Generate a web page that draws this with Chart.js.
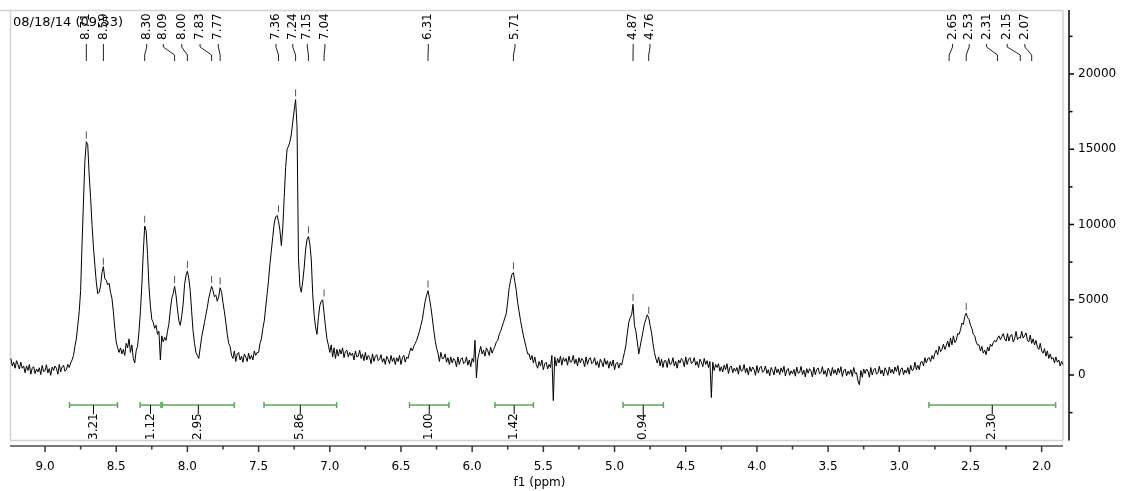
<!DOCTYPE html>
<html><head><meta charset="utf-8">
<script src="https://cdn.jsdelivr.net/npm/chart.js@4.4.1/dist/chart.umd.min.js"></script>
<style>html,body{margin:0;padding:0;background:#fff;overflow:hidden}#wrap{width:1123px;height:491px}</style>
</head><body><div id="wrap"><canvas id="c" width="1123" height="491"></canvas></div>
<script>
// ---- spectrum (1H NMR), sampled every 0.01 ppm starting at 9.24 ppm ----
const ppmStart = 9.24;
const ppmStep = 0.01;
const intensity = [
 1100,600,850,450,950,700,400,850,450,600,
 150,600,300,700,50,450,550,100,400,200,
 480,30,630,230,280,680,130,430,-20,530,
 300,600,450,50,700,200,550,650,250,350,
 700,500,800,1000,1300,1900,2400,3300,4200,5600,
 8700,11500,14200,15500,15300,13300,11800,10000,8500,7300,
 6200,5400,5500,5900,6800,7200,6400,6300,6000,6100,
 5500,5100,4200,3100,2200,1800,1500,1800,1400,1700,
 1300,2100,1800,2400,1500,2000,1100,800,1600,1900,
 2900,4200,6000,8100,9900,9600,8000,5900,4600,3700,
 3500,3100,3300,2700,2900,1000,2600,2200,2500,2300,
 2900,3400,4300,5100,5400,5900,5300,4400,3600,3300,
 3900,4700,6000,6600,6900,6400,5600,4200,2900,2100,
 1500,1300,1100,1800,2500,3000,3500,4000,4500,5100,
 5500,5900,5600,5200,5300,4900,5200,5800,5500,4800,
 4200,3500,2700,2100,1900,1300,1100,1600,900,1400,
 1500,1000,1250,850,1400,1200,900,1450,1050,1300,
 1000,1600,1300,1500,1500,2100,2400,3100,3600,4500,
 5400,6300,7400,8300,9200,10100,10500,10600,10200,9600,
 8600,9800,11800,13800,15000,15200,15500,16000,16800,17600,
 18300,16500,7800,5900,5500,6200,7100,8300,9000,9200,
 8700,7700,5400,4000,3200,2700,3800,4600,4900,5000,
 4100,3200,2400,2000,1500,2000,1200,1800,1100,1700,
 1250,1700,1400,1800,1150,1550,1650,1200,1500,1300,
 1450,1000,1600,1200,1250,1650,1100,1400,950,1500,
 1000,1300,1150,750,1400,900,1250,1350,950,1050,
 1350,850,1100,700,1250,1050,750,1300,900,1150,
 700,1150,900,1300,700,1150,1300,850,1200,1100,
 1500,1800,1600,1900,2100,2300,2600,2900,3300,3700,
 4300,4900,5300,5600,5100,4500,3800,3000,2300,1800,
 1450,900,1500,1100,1100,1400,850,1150,700,1200,
 800,1100,950,550,1200,700,1050,1150,750,850,
 1200,650,1000,550,1100,850,2300,-200,1100,1500,
 1900,1400,1650,1250,1800,1600,1300,1850,1450,1700,
 1900,2200,2300,2700,2900,3200,3500,3800,4100,4900,
 5800,6300,6700,6800,6200,5600,4800,4200,3600,3100,
 2600,2200,1800,1400,1400,1000,1300,800,1200,700,
 450,900,600,1000,350,750,850,400,700,500,
 1300,-1700,1200,600,1100,800,1250,650,1150,900,
 1100,650,1250,850,900,1300,750,1050,600,1150,
 800,1100,950,550,1200,700,1050,1150,750,850,
 1150,650,900,500,1050,850,550,1100,700,950,
 450,900,600,1000,350,750,850,450,800,650,
 1100,1500,2000,2800,3500,3800,4000,4700,3300,2900,
 2200,1400,1900,2400,2900,3400,3700,4000,3800,3300,
 2800,2100,1500,1100,800,1200,600,1050,500,950,
 950,500,1100,700,750,1150,600,900,450,1000,
 800,1100,950,550,1200,700,1050,1150,750,850,
 1150,650,900,500,1050,850,550,1100,700,950,
 500,900,-1500,850,300,700,500,750,250,550,
 200,650,350,750,100,500,600,150,450,250,
 500,50,650,250,300,700,150,450,0,550,
 230,530,380,-20,630,130,480,580,180,280,
 600,100,350,-50,500,300,0,550,150,400,
 30,480,180,580,-70,330,430,-20,280,80,
 370,-80,520,120,170,570,20,320,-130,420,
 120,420,270,-130,520,20,370,470,70,170,
 550,50,300,-100,450,250,-50,500,100,350,
 0,450,150,550,-100,300,400,-50,250,50,
 350,-100,500,100,150,-400,-650,300,-150,400,
 100,400,250,-150,500,0,350,450,50,150,
 580,80,330,-70,480,280,-20,530,130,380,
 80,530,230,630,-20,380,480,30,330,130,
 500,50,650,300,350,850,350,650,350,850,
 900,600,1150,800,1100,1150,900,1300,1050,1450,
 1650,1350,1900,1550,1700,2050,1700,1950,2250,1850,
 2450,2000,2600,2150,2300,2750,2700,3000,3450,3350,
 3900,4100,3800,3700,3300,3100,2700,2600,2200,2000,
 2000,1600,1900,1450,1650,1350,1850,1600,2050,1900,
 2150,2300,2200,2450,2600,2350,2550,2750,2400,2250,
 2750,2250,2600,2700,2200,2400,2900,2350,2500,2450,
 2900,2450,2600,2800,2300,2200,2650,2100,2400,2000,
 2300,1850,1700,2100,1600,1450,1750,1250,1600,1100,
 1400,1050,1150,800,1200,850,1000,600,900,700
];

// ---- peak picking ----
const peakLabels   = ['8.71','8.59','8.30','8.09','8.00','7.83','7.77','7.36','7.24','7.15','7.04','6.31','5.71','4.87','4.76','2.65','2.53','2.31','2.15','2.07'];
const peakPpm      = [8.71, 8.59, 8.30, 8.09, 8.00, 7.83, 7.77, 7.36, 7.24, 7.15, 7.04, 6.31, 5.71, 4.87, 4.76, 2.65, 2.53, 2.31, 2.15, 2.07];
const peakLabelPpm = [8.71, 8.59, 8.286, 8.169, 8.040, 7.911, 7.783, 7.378, 7.260, 7.158, 7.034, 6.308, 5.699, 4.869, 4.751, 2.626, 2.509, 2.387, 2.242, 2.118];
const peakMarkPpm   = [8.71, 8.59, 8.30, 8.09, 8.00, 7.83, 7.77, 7.36, 7.24, 7.15, 7.04, 6.31, 5.71, 4.87, 4.76, 2.53];
const peakMarkValue = [15950, 7550, 10350, 6350, 7350, 6350, 6250, 11050, 18750, 9650, 5450, 6050, 7250, 5150, 4300, 4550];

// ---- integrals ----
const integralFrom   = [8.828, 8.332, 8.176, 7.462, 6.440, 5.840, 4.940, 2.792];
const integralTo     = [8.491, 8.186, 7.671, 6.952, 6.163, 5.570, 4.657, 1.902];
const integralValues = ['3.21', '1.12', '2.95', '5.86', '1.00', '1.42', '0.94', '2.30'];
const integralLevel  = -2000;

// ---- axes ----
const xMajorTicks = [9.0, 8.5, 8.0, 7.5, 7.0, 6.5, 6.0, 5.5, 5.0, 4.5, 4.0, 3.5, 3.0, 2.5, 2.0];
const xMinorTicks = [8.75, 8.25, 7.75, 7.25, 6.75, 6.25, 5.75, 5.25, 4.75, 4.25, 3.75, 3.25, 2.75, 2.25];
const yMajorTicks = [0, 5000, 10000, 15000, 20000];
const yMinorTicks = [-2500, 2500, 7500, 12500, 17500, 22500];
const xMin = 1.808, xMax = 9.246;
const yMin = -4718, yMax = 24252;
const dateText = '08/18/14 (09:53)';

Chart.defaults.font.family = "'DejaVu Sans', Verdana, sans-serif";
Chart.defaults.font.size = 12;
Chart.defaults.color = '#000';

const spectrum = intensity.map((v, i) => ({ x: +(ppmStart - i * ppmStep).toFixed(2), y: v }));
const marks = peakMarkPpm.map((p, i) => ({ x: p, y: peakMarkValue[i] }));

function seg(ctx, x1, y1, x2, y2) { ctx.beginPath(); ctx.moveTo(x1, y1); ctx.lineTo(x2, y2); ctx.stroke(); }

const deco = {
  id: 'deco',
  beforeDatasetsDraw(chart) {
    const { ctx, chartArea: a } = chart;
    const fr = a.right - 6, fb = a.bottom - 5.5;
    ctx.save();
    ctx.strokeStyle = '#d2d2d2'; ctx.lineWidth = 1.5;
    seg(ctx, 0, a.top + 0.5, fr, a.top + 0.5);
    seg(ctx, a.left + 0.5, a.top, a.left + 0.5, fb);
    seg(ctx, fr, a.top, fr, fb);
    seg(ctx, a.left, fb, fr, fb);
    ctx.restore();
  },
  afterDraw(chart) {
    const { ctx, chartArea: a, scales: { x, y } } = chart;
    const fr = a.right - 6, fb = a.bottom - 5.5;
    ctx.save();
    // x axis
    ctx.strokeStyle = '#7a7a7a'; ctx.lineWidth = 2;
    seg(ctx, a.left, a.bottom, fr, a.bottom);
    ctx.strokeStyle = '#333'; ctx.lineWidth = 1.5;
    xMajorTicks.forEach(v => { const p = x.getPixelForValue(v); seg(ctx, p, a.bottom, p, a.bottom + 6); });
    xMinorTicks.forEach(v => { const p = x.getPixelForValue(v); seg(ctx, p, a.bottom, p, a.bottom + 3.5); });
    // y axis
    ctx.strokeStyle = '#000'; ctx.lineWidth = 1.5;
    seg(ctx, a.right, a.top, a.right, fb);
    yMajorTicks.forEach(v => { const p = y.getPixelForValue(v); seg(ctx, a.right, p, a.right + 5, p); });
    yMinorTicks.forEach(v => { const p = y.getPixelForValue(v); if (p < fb) seg(ctx, a.right, p, a.right + 3.5, p); });
    // date stamp
    ctx.fillStyle = '#000';
    ctx.font = "13px 'DejaVu Sans', Verdana, sans-serif";
    ctx.textAlign = 'left'; ctx.textBaseline = 'alphabetic';
    ctx.fillText(dateText, 13, 26);
    // peak labels
    ctx.font = "12px 'DejaVu Sans', Verdana, sans-serif";
    ctx.strokeStyle = '#222'; ctx.lineWidth = 1;
    peakLabels.forEach((t, i) => {
      const lx = x.getPixelForValue(peakLabelPpm[i]);
      const px = x.getPixelForValue(peakPpm[i]);
      ctx.save(); ctx.translate(lx, a.top + 30); ctx.rotate(-Math.PI / 2);
      ctx.textAlign = 'left'; ctx.textBaseline = 'middle'; ctx.fillText(t, 0, 0); ctx.restore();
      ctx.beginPath(); ctx.moveTo(lx, a.top + 34); ctx.lineTo(lx, a.top + 37);
      ctx.lineTo(px, a.top + 45); ctx.lineTo(px, a.top + 51); ctx.stroke();
    });
    // integrals
    const iy = y.getPixelForValue(integralLevel);
    integralFrom.forEach((f, i) => {
      const x1 = x.getPixelForValue(f), x2 = x.getPixelForValue(integralTo[i]);
      ctx.strokeStyle = '#5aa95a'; ctx.lineWidth = 1.5;
      seg(ctx, x1, iy, x2, iy);
      seg(ctx, x1, iy - 3, x1, iy + 3);
      seg(ctx, x2, iy - 3, x2, iy + 3);
      const cx = (x1 + x2) / 2;
      ctx.strokeStyle = '#000'; ctx.lineWidth = 1;
      seg(ctx, cx, iy, cx, iy + 9);
      ctx.save(); ctx.translate(cx, fb - 0.5); ctx.rotate(-Math.PI / 2);
      ctx.textAlign = 'left'; ctx.textBaseline = 'middle'; ctx.fillText(integralValues[i], 0, 0); ctx.restore();
    });
    ctx.restore();
  }
};

new Chart(document.getElementById('c'), {
  type: 'scatter',
  data: {
    datasets: [
      { data: spectrum, showLine: true, borderColor: '#000', borderWidth: 1, pointRadius: 0, tension: 0, order: 2 },
      { data: marks, showLine: false, pointStyle: 'line', pointRotation: 90, pointRadius: 3.5,
        pointBorderColor: '#555', pointBorderWidth: 1, pointBackgroundColor: '#555', order: 1 }
    ]
  },
  options: {
    responsive: false, animation: false, events: [],
    layout: { padding: { left: 10, top: 10, right: 0, bottom: 0 } },
    plugins: { legend: { display: false }, tooltip: { enabled: false } },
    scales: {
      x: {
        type: 'linear', reverse: true, min: xMin, max: xMax, position: 'bottom',
        grid: { display: false, drawTicks: false }, border: { display: false },
        afterBuildTicks(s) { s.ticks = xMajorTicks.map(v => ({ value: v })); },
        afterFit(s) { s.height = 45; s.paddingLeft = 0; s.paddingRight = 0; },
        ticks: { autoSkip: false, maxRotation: 0, padding: 13.5, callback: v => Number(v).toFixed(1) },
        title: { display: true, text: 'f1 (ppm)', padding: { top: 0, bottom: 1 } }
      },
      y: {
        type: 'linear', position: 'right', min: yMin, max: yMax,
        grid: { display: false, drawTicks: false }, border: { display: false },
        afterBuildTicks(s) { s.ticks = yMajorTicks.map(v => ({ value: v })); },
        afterFit(s) { s.width = 54; s.paddingTop = 0; s.paddingBottom = 0; },
        ticks: { autoSkip: false, padding: 9, callback: v => String(v) }
      }
    }
  },
  plugins: [deco]
});
</script>
</body></html>
